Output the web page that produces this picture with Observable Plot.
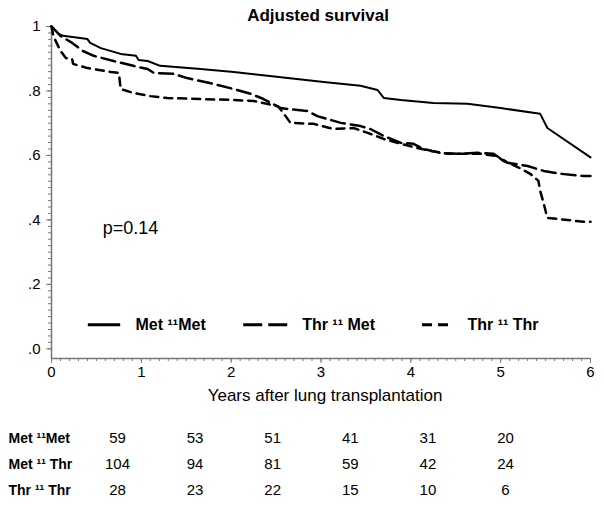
<!DOCTYPE html>
<html><head><meta charset="utf-8">
<script src="https://cdn.jsdelivr.net/npm/d3@7"></script>
<script src="https://cdn.jsdelivr.net/npm/@observablehq/plot@0.6"></script>
<style>body{margin:0;background:#fff;} #chart{width:604px;}</style>
</head><body><div id="chart"></div>
<script>
// ---- data ----
const seriesNames = ["Met ¹¹Met", "Thr ¹¹ Met", "Thr ¹¹ Thr"];
const metMet = [[0,1.0],[0.02,0.995],[0.08,0.977],[0.13,0.971],[0.40,0.961],[0.43,0.949],[0.55,0.933],[0.77,0.915],[0.94,0.909],[0.97,0.896],[1.07,0.893],[1.21,0.878],[1.66,0.868],[2.03,0.859],[2.63,0.840],[3.03,0.828],[3.44,0.816],[3.63,0.803],[3.70,0.778],[3.89,0.772],[4.25,0.763],[4.63,0.760],[5.00,0.747],[5.44,0.729],[5.52,0.685],[6.00,0.594]];
const thrMet = [[0,1.0],[0.10,0.971],[0.23,0.949],[0.35,0.924],[0.47,0.909],[0.69,0.893],[0.91,0.878],[1.07,0.868],[1.14,0.856],[1.36,0.853],[1.51,0.840],[1.80,0.822],[2.03,0.806],[2.22,0.791],[2.36,0.775],[2.55,0.747],[2.63,0.744],[2.85,0.738],[2.96,0.722],[3.07,0.713],[3.22,0.701],[3.44,0.691],[3.55,0.682],[3.70,0.660],[3.89,0.639],[4.03,0.636],[4.14,0.620],[4.33,0.608],[4.52,0.605],[4.74,0.608],[4.92,0.605],[5.08,0.577],[5.30,0.567],[5.48,0.552],[5.67,0.543],[5.92,0.536],[6.00,0.536]];
const thrThr = [[0,1.0],[0.02,0.971],[0.10,0.924],[0.16,0.902],[0.23,0.899],[0.24,0.884],[0.40,0.871],[0.66,0.859],[0.75,0.856],[0.77,0.806],[0.91,0.794],[1.10,0.784],[1.29,0.778],[1.66,0.775],[2.03,0.772],[2.25,0.769],[2.40,0.760],[2.52,0.753],[2.58,0.732],[2.66,0.701],[2.92,0.698],[3.14,0.682],[3.36,0.685],[3.52,0.670],[3.70,0.651],[3.89,0.636],[4.07,0.623],[4.22,0.614],[4.41,0.605],[4.78,0.605],[4.96,0.598],[5.03,0.583],[5.19,0.564],[5.33,0.543],[5.42,0.521],[5.44,0.490],[5.48,0.450],[5.52,0.406],[5.63,0.403],[5.92,0.394],[6.00,0.394]];
const xTicks = [0, 1, 2, 3, 4, 5, 6];
const yTicks = [0, 0.2, 0.4, 0.6, 0.8, 1];
const yTickLabels = [".0", ".2", ".4", ".6", ".8", "1"];
const pValueText = "p=0.14";
const titleText = "Adjusted survival";
const xLabelText = "Years after lung transplantation";
const riskRows = ["Met ¹¹Met", "Met ¹¹ Thr", "Thr ¹¹ Thr"];
const riskCols = [0, 1, 2, 3, 4, 5];
const riskMetMet = [59, 53, 51, 41, 31, 20];
const riskMetThr = [104, 94, 81, 59, 42, 24];
const riskThrThr = [28, 23, 22, 15, 10, 6];

// ---- layout ----
const font = "'Liberation Sans', Arial, sans-serif";
const yMin = -0.03;
const axisColor = "#777";
const gx = d => d[0], gy = d => d[1];
const legendY = 0.075;

const main = Plot.plot({
  width: 604, height: 405,
  marginLeft: 51, marginRight: 14, marginTop: 26, marginBottom: 47,
  style: {fontFamily: font, background: "#fff", color: "#000", overflow: "visible"},
  x: {domain: [0, 6]},
  y: {domain: [yMin, 1]},
  marks: [
    Plot.ruleX([0], {y1: yMin, y2: 1, stroke: axisColor, strokeWidth: 1.5}),
    Plot.ruleY([yMin], {x1: 0, x2: 6, stroke: axisColor, strokeWidth: 1.5}),
    Plot.axisY(d3.range(0, 51).map(i => i / 50), {tickSize: 3, text: null, stroke: axisColor}),
    Plot.axisY(yTicks, {tickSize: 5, tickPadding: 6, stroke: axisColor, fill: "#000", fontSize: 15,
      tickFormat: d => yTickLabels[yTicks.indexOf(d)]}),
    Plot.axisX(d3.range(0, 61).map(i => i / 10), {tickSize: 3, text: null, stroke: axisColor}),
    Plot.axisX(xTicks, {tickSize: 5, tickPadding: 3, stroke: axisColor, fill: "#000", fontSize: 15}),
    Plot.line(metMet, {x: gx, y: gy, stroke: "#000", strokeWidth: 2}),
    Plot.line(thrMet, {x: gx, y: gy, stroke: "#000", strokeWidth: 2.5, strokeDasharray: "14,6"}),
    Plot.line(thrThr, {x: gx, y: gy, stroke: "#000", strokeWidth: 2.5, strokeDasharray: "8,6"}),
    // legend
    Plot.ruleY([legendY], {x1: 0.41, x2: 0.77, stroke: "#000", strokeWidth: 3}),
    Plot.ruleY([legendY], {x1: 2.14, x2: 2.63, stroke: "#000", strokeWidth: 3, strokeDasharray: "19,6"}),
    Plot.ruleY([legendY], {x1: 4.13, x2: 4.42, stroke: "#000", strokeWidth: 3, strokeDasharray: "10,6"}),
    Plot.text([seriesNames[0]], {x: 0.935, y: legendY, textAnchor: "start", fontWeight: "bold", fontSize: 16}),
    Plot.text([seriesNames[1]], {x: 2.79, y: legendY, textAnchor: "start", fontWeight: "bold", fontSize: 16}),
    Plot.text([seriesNames[2]], {x: 4.63, y: legendY, textAnchor: "start", fontWeight: "bold", fontSize: 16}),
    Plot.text([pValueText], {x: 0.57, y: 0.373, textAnchor: "start", fontSize: 18}),
    Plot.text([titleText], {frameAnchor: "top", lineAnchor: "middle", dy: -11, dx: -3, fontSize: 17, fontWeight: "bold"}),
    Plot.text([xLabelText], {frameAnchor: "bottom", lineAnchor: "middle", dy: 37, dx: 4, fontSize: 17})
  ]
});

const riskSeries = [riskMetMet, riskMetThr, riskThrThr];
const riskData = riskRows.flatMap((r, i) => riskSeries[i].map((n, j) => ({row: r, col: riskCols[j], n})));
const table = Plot.plot({
  width: 604, height: 100,
  marginLeft: 117, marginRight: 99, marginTop: 33, marginBottom: 15,
  style: {fontFamily: font, background: "#fff", color: "#000", overflow: "visible"},
  x: {domain: [0, 5], axis: null},
  y: {type: "point", domain: riskRows, padding: 0, axis: null},
  marks: [
    Plot.text(riskData, {x: "col", y: "row", text: d => String(d.n), fontSize: 15}),
    Plot.text(riskRows, {y: d => d, frameAnchor: "left", dx: -109, textAnchor: "start", fontWeight: "bold", fontSize: 14})
  ]
});

const el = document.getElementById("chart");
el.appendChild(main);
el.appendChild(table);
for (const s of el.querySelectorAll("svg")) s.style.display = "block";
</script>
</body></html>
